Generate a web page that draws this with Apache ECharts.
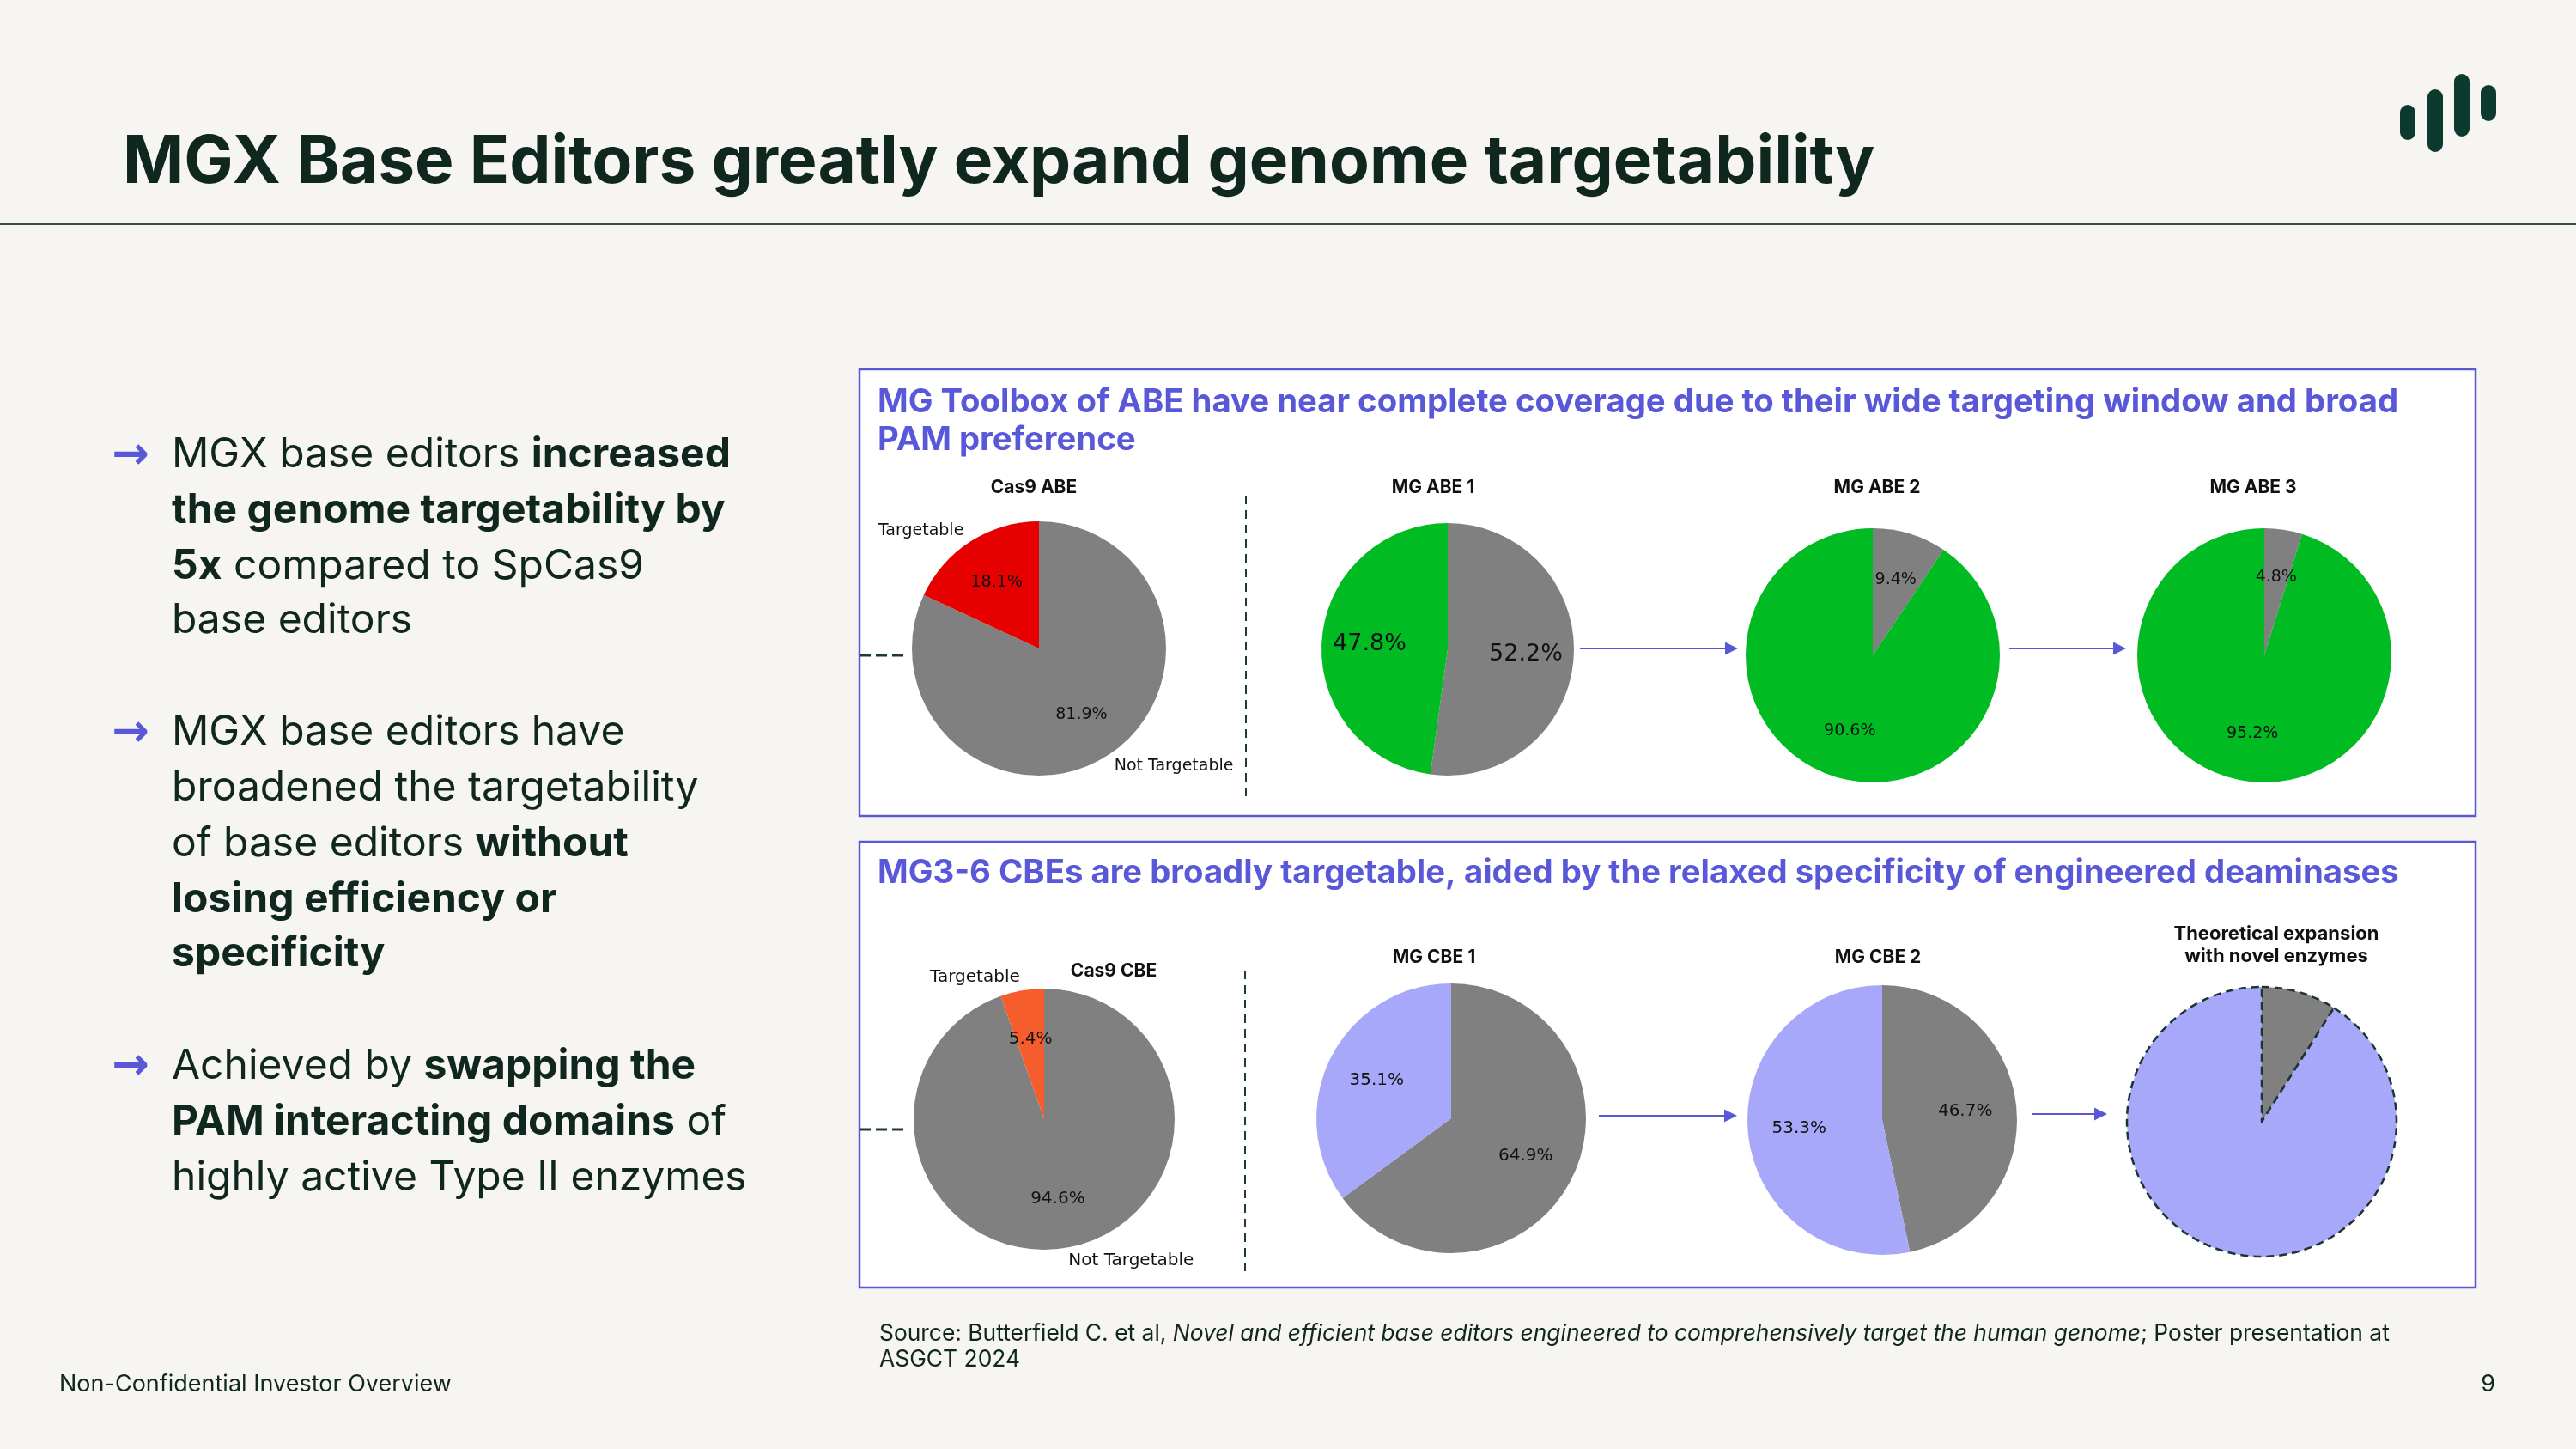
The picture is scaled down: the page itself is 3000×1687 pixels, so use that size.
<!DOCTYPE html>
<html><head><meta charset="utf-8">
<script src="https://cdn.jsdelivr.net/npm/echarts@6.0.0/dist/echarts.min.js"></script>
<style>html,body{margin:0;padding:0;background:#f6f5f1;}#c{width:3000px;height:1687px;}</style>
</head><body><div id="c"></div>
<script>
// ---- data ----
const categories = ['Not Targetable', 'Targetable'];
const pieTitles = ['Cas9 ABE', 'MG ABE 1', 'MG ABE 2', 'MG ABE 3', 'Cas9 CBE', 'MG CBE 1', 'MG CBE 2', 'Theoretical expansion\nwith novel enzymes'];
const cas9ABE = [81.9, 18.1];
const mgABE1 = [52.2, 47.8];
const mgABE2 = [9.4, 90.6];
const mgABE3 = [4.8, 95.2];
const cas9CBE = [94.6, 5.4];
const mgCBE1 = [64.9, 35.1];
const mgCBE2 = [46.7, 53.3];
const theoretical = [9.0, 91.0];

// ---- style ----
const BG = '#f6f5f1', INK = '#10271f', BLUE = '#5858d8';
const GRAY = '#808080', RED = '#e60000', GREEN = '#00bb22', ORANGE = '#f55d2c', LAV = '#a7a8f9';
const FONT = 'Inter, "Noto Sans", sans-serif';
const MPL = '"DejaVu Sans", sans-serif';

const pieDefs = [
  {title: pieTitles[0], vals: cas9ABE, center: [1210, 755], r: 148, colors: [GRAY, RED], pct: 19, names: 19, tpos: [1204, 568], tfs: 21},
  {title: pieTitles[1], vals: mgABE1, center: [1686, 756], r: 147, colors: [GRAY, GREEN], pct: 27, tpos: [1669, 568], tfs: 21},
  {title: pieTitles[2], vals: mgABE2, center: [2181, 763], r: 148, colors: [GRAY, GREEN], pct: 19, tpos: [2186, 568], tfs: 21},
  {title: pieTitles[3], vals: mgABE3, center: [2637, 763], r: 148, colors: [GRAY, GREEN], pct: 19, tpos: [2624, 568], tfs: 21},
  {title: pieTitles[4], vals: cas9CBE, center: [1216, 1303], r: 152, colors: [GRAY, ORANGE], pct: 20, names: 20, tpos: [1297, 1131], tfs: 21},
  {title: pieTitles[5], vals: mgCBE1, center: [1690, 1302], r: 157, colors: [GRAY, LAV], pct: 20, tpos: [1670, 1115], tfs: 21},
  {title: pieTitles[6], vals: mgCBE2, center: [2192, 1304], r: 157, colors: [GRAY, LAV], pct: 20, tpos: [2187, 1115], tfs: 21},
  {title: pieTitles[7], vals: theoretical, center: [2634, 1306], r: 157, colors: [GRAY, LAV], dashed: true, tpos: [2651, 1100], tfs: 22}
];

const series = [];
pieDefs.forEach(p => {
  series.push({
    type: 'pie', center: p.center, radius: p.r, startAngle: 90, clockwise: true,
    silent: true, animation: false, avoidLabelOverlap: false,
    itemStyle: p.dashed ? {borderWidth: 2.5, borderColor: '#1c3530', borderType: [9, 6]} : {borderWidth: 0},
    data: p.vals.map((v, i) => ({value: v, name: categories[i], itemStyle: {color: p.colors[i]}})),
    label: p.names ? {show: true, position: 'outside', formatter: '{b}', fontSize: p.names, fontFamily: MPL, color: '#111', distanceToLabelLine: 0} : {show: false},
    labelLine: {show: false, length: p.r * 0.1, length2: 0},
    emphasis: {disabled: true}
  });
  if (p.pct) {
    series.push({
      type: 'pie', center: p.center, radius: [p.r * 0.5, p.r * 0.7], startAngle: 90, clockwise: true,
      silent: true, animation: false, avoidLabelOverlap: false, minShowLabelAngle: 0,
      itemStyle: {color: 'rgba(0,0,0,0)', borderWidth: 0},
      data: p.vals.map((v, i) => ({value: v, name: categories[i]})),
      label: {show: true, position: 'inside', formatter: q => q.value.toFixed(1) + '%', fontSize: p.pct, fontFamily: MPL, color: '#111', textBorderWidth: 0},
      labelLine: {show: false},
      emphasis: {disabled: true}
    });
  }
});

const g = [];
// header
g.push({type: 'text', style: {text: 'MGX Base Editors greatly expand genome targetability', x: 143, y: 190, fontSize: 76.5, fontWeight: 700, fontFamily: FONT, fill: INK, verticalAlign: 'middle'}});
g.push({type: 'line', shape: {x1: 0, y1: 261, x2: 3000, y2: 261}, style: {stroke: '#33503f', lineWidth: 2}});
[[2795, 122, 41], [2827, 104, 73], [2858, 86, 73], [2889, 99, 42]].forEach(b => {
  g.push({type: 'rect', shape: {x: b[0], y: b[1], width: 18, height: b[2], r: 9}, style: {fill: '#0d3a2e'}});
});
// panels
[[430, 520], [980, 519]].forEach(b => {
  g.push({type: 'rect', z: -1, shape: {x: 1001, y: b[0], width: 1882, height: b[1]}, style: {fill: '#fff', stroke: BLUE, lineWidth: 2.5}});
});
const ptStyle = {fontWeight: 700, fontFamily: FONT, fill: BLUE, verticalAlign: 'middle', fontSize: 38.3};
g.push({type: 'text', style: Object.assign({text: 'MG Toolbox of ABE have near complete coverage due to their wide targeting window and broad', x: 1022, y: 468}, ptStyle)});
g.push({type: 'text', style: Object.assign({text: 'PAM preference', x: 1022, y: 512}, ptStyle)});
g.push({type: 'text', style: Object.assign({text: 'MG3-6 CBEs are broadly targetable, aided by the relaxed specificity of engineered deaminases', x: 1022, y: 1016}, ptStyle)});
// pie titles
pieDefs.forEach(p => {
  g.push({type: 'text', style: {text: p.title, x: p.tpos[0], y: p.tpos[1], fontSize: p.tfs, fontWeight: 700, fontFamily: FONT, fill: '#111', align: 'center', verticalAlign: 'middle', lineHeight: 26}});
});
// separators
[[1451, 577, 933], [1450, 1130, 1481]].forEach(s => {
  g.push({type: 'line', shape: {x1: s[0], y1: s[1], x2: s[0], y2: s[2]}, style: {stroke: '#1e3a32', lineWidth: 2, lineDash: [10, 7]}});
});
[763, 1315].forEach(y => {
  g.push({type: 'line', shape: {x1: 1001, y1: y, x2: 1053, y2: y}, style: {stroke: '#1e3a32', lineWidth: 3, lineDash: [13, 6]}});
});
// arrows
[[1840, 2024, 755], [2340, 2476, 755], [1862, 2023, 1299], [2366, 2454, 1297]].forEach(a => {
  g.push({type: 'line', shape: {x1: a[0], y1: a[2], x2: a[1] - 12, y2: a[2]}, style: {stroke: BLUE, lineWidth: 2.2}});
  g.push({type: 'polygon', shape: {points: [[a[1] - 15, a[2] - 7.5], [a[1], a[2]], [a[1] - 15, a[2] + 7.5]]}, style: {fill: BLUE}});
});
// bullets
const bulletLines = [
  [530, '{n|MGX base editors }{b|increased}'],
  [595, '{b|the genome targetability by}'],
  [660, '{b|5x}{n| compared to SpCas9}'],
  [723, '{n|base editors}'],
  [853, '{n|MGX base editors have}'],
  [918, '{n|broadened the targetability}'],
  [983, '{n|of base editors }{b|without}'],
  [1048, '{b|losing efficiency or}'],
  [1111, '{b|specificity}'],
  [1242, '{n|Achieved by }{b|swapping the}'],
  [1307, '{b|PAM interacting domains}{n| of}'],
  [1372, '{n|highly active Type II enzymes}']
];
const bRich = {n: {fontSize: 48, fontFamily: FONT, fill: INK}, b: {fontSize: 48, fontFamily: FONT, fontWeight: 700, fill: INK}};
bulletLines.forEach(l => {
  g.push({type: 'text', style: {text: l[1], x: 200, y: l[0], rich: bRich, verticalAlign: 'middle'}});
});
[531, 854, 1242].forEach(y => {
  g.push({type: 'text', style: {text: '→', x: 152, y: y, fontSize: 52, fontWeight: 700, fontFamily: MPL, fill: BLUE, align: 'center', verticalAlign: 'middle'}});
});
// footer
g.push({type: 'text', style: {text: '{n|Source: Butterfield C. et al, }{i|Novel and efficient base editors engineered to comprehensively target the human genome}{n|; Poster presentation at}', x: 1024, y: 1553, verticalAlign: 'middle',
  rich: {n: {fontSize: 26.4, fontFamily: FONT, fill: INK}, i: {fontSize: 26.4, fontFamily: FONT, fontStyle: 'italic', fill: INK}}}});
g.push({type: 'text', style: {text: 'ASGCT 2024', x: 1024, y: 1583, fontSize: 26.4, fontFamily: FONT, fill: INK, verticalAlign: 'middle'}});
g.push({type: 'text', style: {text: 'Non-Confidential Investor Overview', x: 69, y: 1612, fontSize: 27, fontFamily: FONT, fill: INK, verticalAlign: 'middle'}});
g.push({type: 'text', style: {text: '9', x: 2906, y: 1612, fontSize: 27, fontFamily: FONT, fill: INK, align: 'right', verticalAlign: 'middle'}});

const chart = echarts.init(document.getElementById('c'), null, {renderer: 'canvas', width: 3000, height: 1687});
chart.setOption({backgroundColor: BG, animation: false, graphic: {elements: g}, series: series});
</script></body></html>
